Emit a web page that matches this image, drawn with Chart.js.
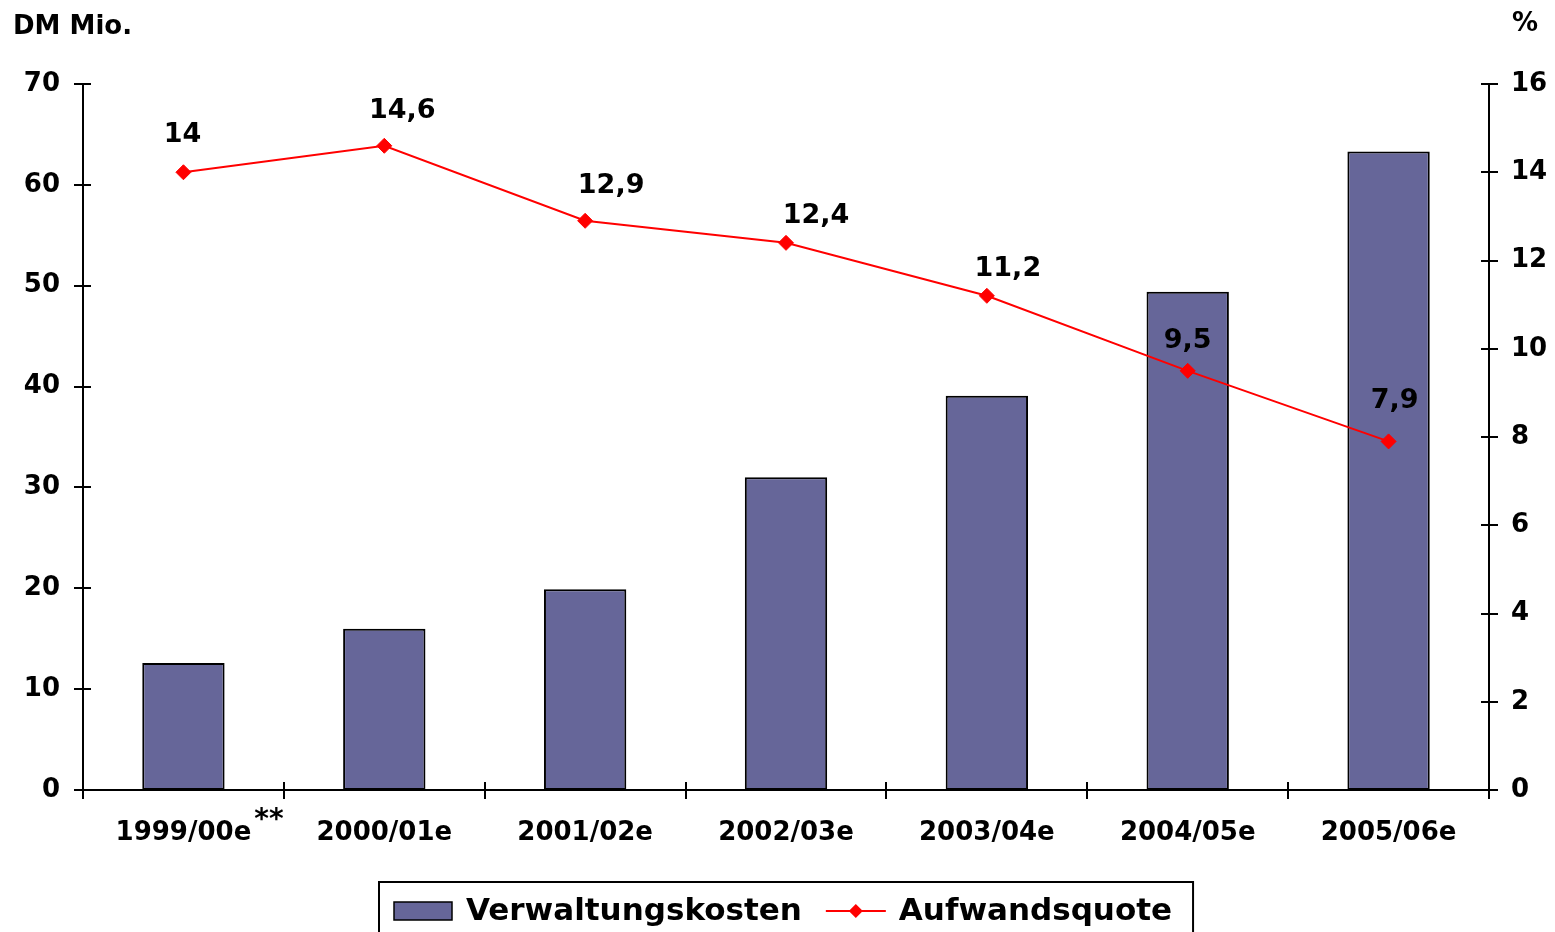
<!DOCTYPE html>
<html>
<head>
<meta charset="utf-8">
<title>Verwaltungskosten und Aufwandsquote</title>
<script src="https://cdn.jsdelivr.net/npm/chart.js@4/dist/chart.umd.min.js"></script>
<style>
  html, body { margin: 0; padding: 0; background: #ffffff; }
  #wrap { width: 1555px; height: 932px; position: relative; overflow: hidden; }
  canvas { display: block; }
</style>
</head>
<body>
<div id="wrap"><canvas id="chart" width="1555" height="932"></canvas></div>
<script>
// Geschäftsjahre
const categories = ['1999/00e', '2000/01e', '2001/02e', '2002/03e', '2003/04e', '2004/05e', '2005/06e'];
// Verwaltungskosten in DM Mio.
const verwaltungskosten = [12.6, 16.0, 19.9, 31.0, 39.1, 49.4, 63.3];
// Aufwandsquote in %
const aufwandsquote = [14, 14.6, 12.9, 12.4, 11.2, 9.5, 7.9];
// Achsenbeschriftungen
const leftTicks = [0, 10, 20, 30, 40, 50, 60, 70];
const rightTicks = [0, 2, 4, 6, 8, 10, 12, 14, 16];
const leftTitle = 'DM Mio.';
const rightTitle = '%';
const footnoteMark = '**';

const FONT = "'DejaVu Sans', sans-serif";
const BAR_COLOR = '#666699';
const LINE_COLOR = '#FF0000';

// Axis lines with ticks crossing the line on both sides
const axesPlugin = {
  id: 'crossAxes',
  afterDatasetsDraw(chart) {
    const { ctx, chartArea: a, scales } = chart;
    const half = 8;
    ctx.save();
    ctx.strokeStyle = '#000';
    ctx.lineWidth = 2;
    ctx.beginPath();
    // left axis
    ctx.moveTo(a.left, a.top); ctx.lineTo(a.left, a.bottom + half);
    leftTicks.forEach(v => {
      const y = Math.round(scales.y.getPixelForValue(v));
      ctx.moveTo(a.left - half - 1, y); ctx.lineTo(a.left + half, y);
    });
    // right axis
    ctx.moveTo(a.right, a.top); ctx.lineTo(a.right, a.bottom + half);
    rightTicks.forEach(v => {
      const y = Math.round(scales.y1.getPixelForValue(v));
      ctx.moveTo(a.right - half, y); ctx.lineTo(a.right + half + 1, y);
    });
    // bottom axis with ticks between categories
    ctx.moveTo(a.left - half, a.bottom); ctx.lineTo(a.right + half, a.bottom);
    const n = categories.length;
    for (let i = 0; i <= n; i++) {
      const x = Math.round(a.left + (a.right - a.left) * i / n);
      ctx.moveTo(x, a.bottom - half); ctx.lineTo(x, a.bottom + half + 1);
    }
    ctx.stroke();
    ctx.restore();
  }
};

// Value labels above the line points
const valueLabelPlugin = {
  id: 'valueLabels',
  afterDatasetsDraw(chart, args, opts) {
    const { ctx } = chart;
    const meta = chart.getDatasetMeta(1);
    const data = chart.data.datasets[1].data;
    ctx.save();
    ctx.font = 'bold 27px ' + FONT;
    ctx.fillStyle = '#000';
    ctx.textAlign = 'center';
    ctx.textBaseline = 'middle';
    meta.data.forEach((pt, i) => {
      const txt = String(data[i]).replace('.', ',');
      ctx.fillText(txt, pt.x + opts.shiftX[i], pt.y + opts.shiftY[i]);
    });
    ctx.restore();
  }
};

// Axis titles, footnote mark and the boxed legend
const decorPlugin = {
  id: 'decor',
  afterDraw(chart) {
    const { ctx, chartArea: a, scales } = chart;
    ctx.save();
    ctx.fillStyle = '#000';
    ctx.font = 'bold 26px ' + FONT;
    ctx.textBaseline = 'alphabetic';
    ctx.textAlign = 'left';
    ctx.fillText(leftTitle, 13, 34);
    ctx.textAlign = 'right';
    ctx.fillText(rightTitle, 1538, 31);

    // footnote mark behind the first category label
    const x0 = scales.x.getPixelForValue(0);
    const w0 = ctx.measureText(categories[0]).width;
    ctx.font = 'bold 28px ' + FONT;
    ctx.textAlign = 'left';
    ctx.fillText(footnoteMark, x0 + w0 / 2 + 3, a.bottom + 38);

    // legend
    const ds = chart.data.datasets;
    ctx.font = 'bold 31px ' + FONT;
    const t1 = ctx.measureText(ds[0].label).width;
    const t2 = ctx.measureText(ds[1].label).width;
    const sw = 58, gap1 = 14, gap2 = 24, lw = 60, gap3 = 13, pad = 15;
    const boxW = pad + sw + gap1 + t1 + gap2 + lw + gap3 + t2 + pad + 6;
    const cx = (a.left + a.right) / 2;
    const bx = Math.round(cx - boxW / 2);
    const by = 882;
    ctx.lineWidth = 2;
    ctx.strokeStyle = '#000';
    ctx.strokeRect(bx, by, boxW, 70);
    const cy = 911;
    let x = bx + pad;
    ctx.fillStyle = ds[0].backgroundColor;
    ctx.fillRect(x, cy - 9, sw, 18);
    ctx.lineWidth = 1.5;
    ctx.strokeRect(x, cy - 9, sw, 18);
    x += sw + gap1;
    ctx.fillStyle = '#000';
    ctx.textAlign = 'left';
    ctx.textBaseline = 'middle';
    ctx.fillText(ds[0].label, x, cy + 1);
    x += t1 + gap2;
    ctx.strokeStyle = ds[1].borderColor;
    ctx.lineWidth = 2;
    ctx.beginPath();
    ctx.moveTo(x, cy); ctx.lineTo(x + lw, cy);
    ctx.stroke();
    ctx.fillStyle = ds[1].borderColor;
    ctx.beginPath();
    const r = 7, mx = x + lw / 2;
    ctx.moveTo(mx - r, cy); ctx.lineTo(mx, cy - r); ctx.lineTo(mx + r, cy); ctx.lineTo(mx, cy + r);
    ctx.closePath();
    ctx.fill();
    x += lw + gap3;
    ctx.fillStyle = '#000';
    ctx.fillText(ds[1].label, x, cy + 1);
    ctx.restore();
  }
};

new Chart(document.getElementById('chart'), {
  type: 'bar',
  data: {
    labels: categories,
    datasets: [
      {
        type: 'bar',
        label: 'Verwaltungskosten',
        data: verwaltungskosten,
        backgroundColor: BAR_COLOR,
        borderColor: '#000000',
        borderWidth: 2,
        borderSkipped: false,
        categoryPercentage: 1.0,
        barPercentage: 0.41,
        yAxisID: 'y',
        order: 2
      },
      {
        type: 'line',
        label: 'Aufwandsquote',
        data: aufwandsquote,
        borderColor: LINE_COLOR,
        backgroundColor: LINE_COLOR,
        borderWidth: 2,
        pointStyle: 'rectRot',
        pointRadius: 7.5,
        pointBorderWidth: 1,
        pointBackgroundColor: LINE_COLOR,
        pointBorderColor: LINE_COLOR,
        tension: 0,
        yAxisID: 'y1',
        order: 1
      }
    ]
  },
  options: {
    responsive: false,
    animation: false,
    devicePixelRatio: 1,
    layout: { padding: { top: 84, bottom: 82, left: 0, right: 0 } },
    plugins: {
      legend: { display: false },
      tooltip: { enabled: false },
      valueLabels: {
        shiftX: [-1, 18, 26, 30, 21, 0, 6],
        shiftY: [-37, -35, -35, -27, -27, -30, -40]
      }
    },
    scales: {
      x: {
        type: 'category',
        offset: true,
        grid: { display: false, drawTicks: false },
        border: { display: false },
        ticks: {
          color: '#000',
          font: { family: FONT, size: 26, weight: 'bold' },
          padding: 28,
          maxRotation: 0,
          autoSkip: false
        },
        afterFit(s) { s.height = 60; }
      },
      y: {
        position: 'left',
        min: 0,
        max: 70,
        grid: { display: false, drawTicks: false },
        border: { display: false },
        ticks: {
          stepSize: 10,
          color: '#000',
          font: { family: FONT, size: 26, weight: 'bold' },
          padding: 23
        },
        afterFit(s) { s.width = 83; }
      },
      y1: {
        position: 'right',
        min: 0,
        max: 16,
        grid: { display: false, drawTicks: false },
        border: { display: false },
        ticks: {
          stepSize: 2,
          color: '#000',
          font: { family: FONT, size: 26, weight: 'bold' },
          padding: 22
        },
        afterFit(s) { s.width = 66; }
      }
    }
  },
  plugins: [axesPlugin, valueLabelPlugin, decorPlugin]
});
</script>
</body>
</html>
